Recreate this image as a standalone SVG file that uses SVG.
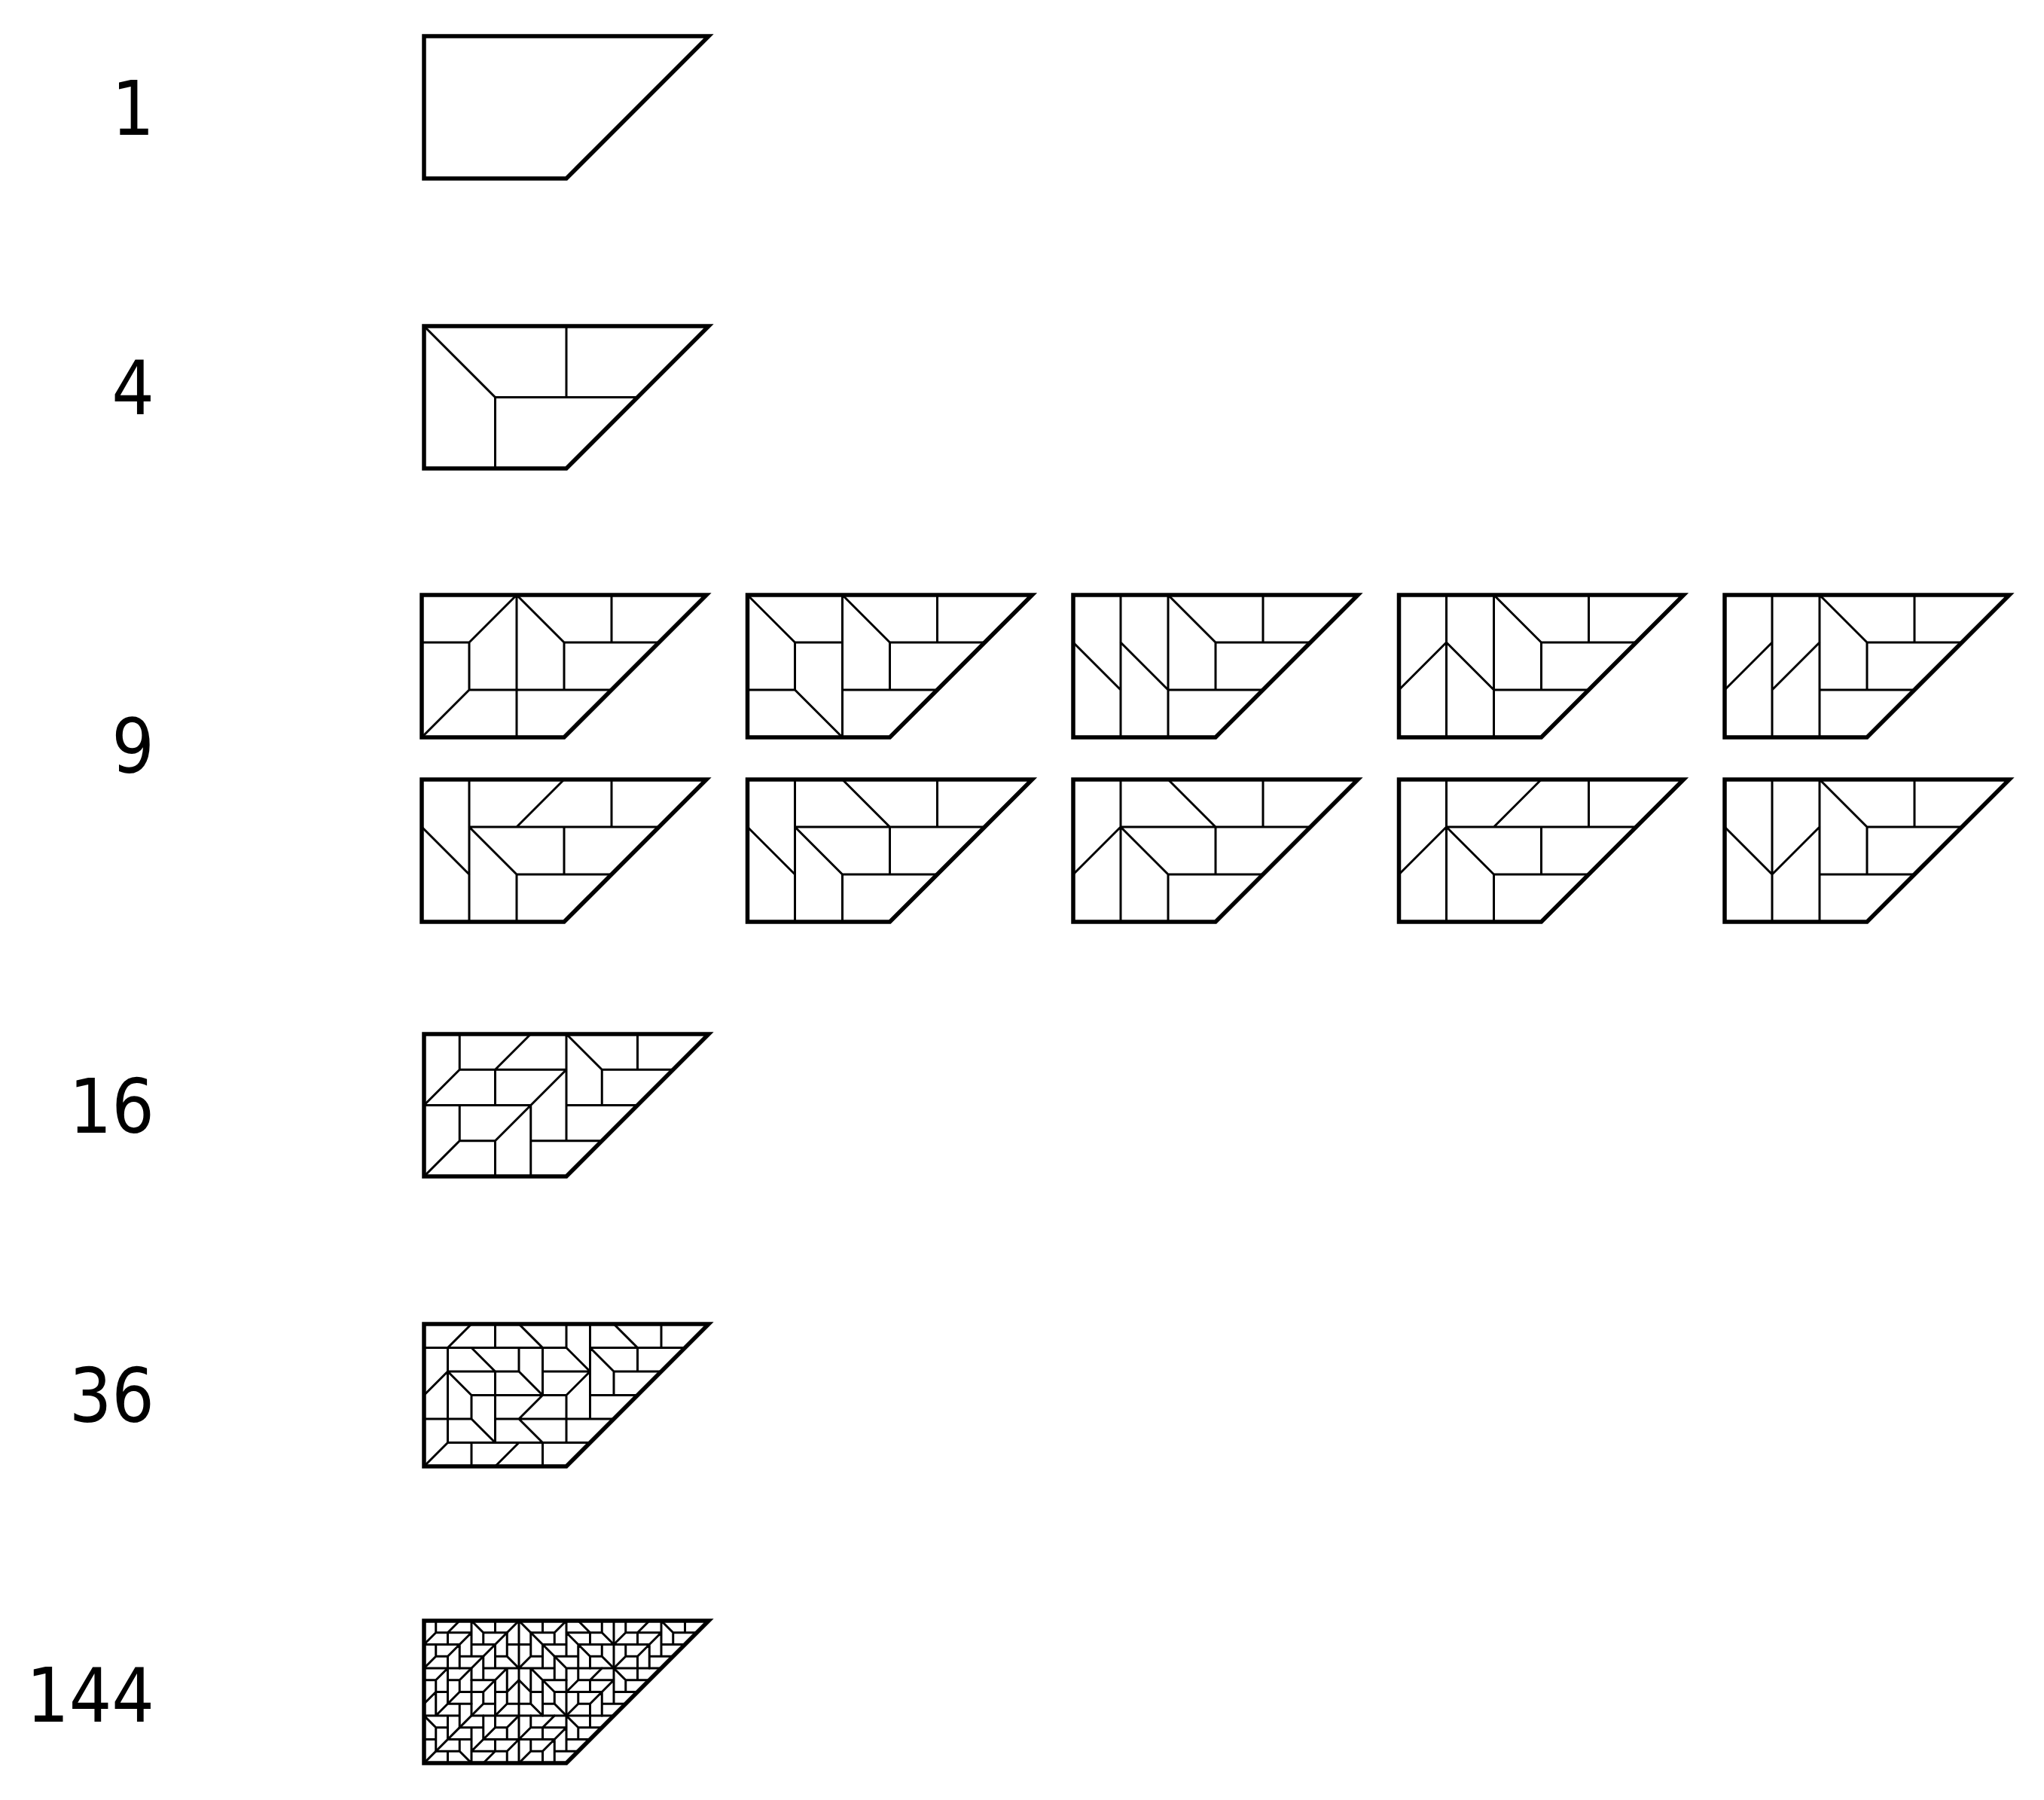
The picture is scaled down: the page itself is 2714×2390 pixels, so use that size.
<svg xmlns="http://www.w3.org/2000/svg" xmlns:xlink="http://www.w3.org/1999/xlink" width="2714" height="2390" viewBox="0 0 2714 2390">
<style>
.o{fill:none;stroke:#000;stroke-width:5.5;stroke-linejoin:miter;stroke-miterlimit:10}
.i{fill:none;stroke:#000;stroke-width:3;vector-effect:non-scaling-stroke;stroke-linecap:round;stroke-linejoin:round}
.lbl{font-family:'DejaVu Sans Condensed','DejaVu Sans',sans-serif;font-stretch:condensed;font-size:99px;fill:#000;text-anchor:end}
</style>
<defs>
<polygon id="out" class="o" points="0,0 378,0 189,189 0,189"/>
<path id="t4" class="i" d="M0 0L1 1V2M1 1H3M2 0V1"/>
<path id="v1" class="i" d="M0 1H1M1 1L2 0M2 0V3M2 0L3 1M3 1H5M4 0V1M1 1V2M3 1V2M1 2H4M0 3L1 2"/>
<path id="v2" class="i" d="M0 0L1 1H2M2 0V3M2 0L3 1M3 1H5M4 0V1M1 1V2M0 2H1L2 3M3 1V2M2 2H4"/>
<path id="v3" class="i" d="M1 0V3M2 0V3M0 1L1 2M1 1L2 2M2 0L3 1M3 1H5M4 0V1M3 1V2M2 2H4"/>
<path id="v4" class="i" d="M1 0V3M2 0V3M0 2L1 1L2 2M2 0L3 1M3 1H5M4 0V1M3 1V2M2 2H4"/>
<path id="v5" class="i" d="M1 0V3M2 0V3M0 2L1 1M1 2L2 1M2 0L3 1M3 1H5M4 0V1M3 1V2M2 2H4"/>
<path id="v6" class="i" d="M1 0V3M0 1L1 2M2 2V3M1 1H5M2 1L3 0M4 0V1M1 1L2 2H4M3 1V2"/>
<path id="v7" class="i" d="M1 0V3M0 1L1 2M1 1H5M2 0L3 1M4 0V1M1 1L2 2V3M2 2H4M3 1V2"/>
<path id="v8" class="i" d="M1 0V3M0 2L1 1M1 1H5M2 0L3 1M4 0V1M1 1L2 2V3M2 2H4M3 1V2"/>
<path id="v9" class="i" d="M1 0V3M0 2L1 1M1 1H5M2 1L3 0M4 0V1M1 1L2 2V3M2 2H4M3 1V2"/>
<path id="v10" class="i" d="M1 0V3M2 0V3M0 1L1 2L2 1M2 0L3 1M3 1H5M4 0V1M3 1V2M2 2H4"/>
<path id="t16" class="i" d="M1 0V1M0 2L1 1H4M2 1L3 0M2 1V2M0 2H3M2 3L4 1M4 0V3M4 0L5 1H7M6 0V1M5 1V2M4 2H6M1 2V3H2M3 3H5M0 4L1 3M3 2V4M2 3V4"/>
<path id="t36" class="i" d="M1 1L2 0M3 0V1M4 0L5 1M6 0V1M7 0V4M8 0L9 1M10 0V1M0 1H6M7 1H11M1 1V5M2 1L3 2M1 2H4M4 1V2M5 1V3M4 2L5 3M6 1L7 2M5 2H7M7 1L8 2M9 1V2M8 2H10M8 2V3M7 3H9M0 3L1 2L2 3H3M2 3V4M0 4H2M2 4L3 5M3 2V5M3 3H6M6 3L7 2M6 3V5M4 4L5 3M4 4L5 5M3 4H8M0 6L1 5H7M2 5V6M3 6L4 5M5 5V6"/>
</defs>
<rect width="2714" height="2390" fill="#fff"/>

<g id="labels">
<text id="lbl1" class="lbl" x="205" y="179">1</text>
<text id="lbl4" class="lbl" x="205" y="550">4</text>
<text id="lbl9" class="lbl" x="205" y="1026">9</text>
<text id="lbl16" class="lbl" x="205" y="1504">16</text>
<text id="lbl36" class="lbl" x="205" y="1888">36</text>
<text id="lbl144" class="lbl" x="205" y="2286">144</text>
</g>

<g id="n1" transform="translate(563,48)"><use href="#out"/></g>

<g id="n4" transform="translate(563,433)">
<g transform="scale(94.5)"><use href="#t4"/></g>
<use href="#out"/>
</g>

<g id="n9a" transform="translate(560,790)"><g transform="scale(63)"><use href="#v1"/></g><use href="#out"/></g>
<g id="n9b" transform="translate(992.5,790)"><g transform="scale(63)"><use href="#v2"/></g><use href="#out"/></g>
<g id="n9c" transform="translate(1425,790)"><g transform="scale(63)"><use href="#v3"/></g><use href="#out"/></g>
<g id="n9d" transform="translate(1857.5,790)"><g transform="scale(63)"><use href="#v4"/></g><use href="#out"/></g>
<g id="n9e" transform="translate(2290,790)"><g transform="scale(63)"><use href="#v5"/></g><use href="#out"/></g>
<g id="n9f" transform="translate(560,1035)"><g transform="scale(63)"><use href="#v6"/></g><use href="#out"/></g>
<g id="n9g" transform="translate(992.5,1035)"><g transform="scale(63)"><use href="#v7"/></g><use href="#out"/></g>
<g id="n9h" transform="translate(1425,1035)"><g transform="scale(63)"><use href="#v8"/></g><use href="#out"/></g>
<g id="n9i" transform="translate(1857.5,1035)"><g transform="scale(63)"><use href="#v9"/></g><use href="#out"/></g>
<g id="n9j" transform="translate(2290,1035)"><g transform="scale(63)"><use href="#v10"/></g><use href="#out"/></g>

<g id="n16" transform="translate(563,1373)">
<g transform="scale(47.25)"><use href="#t16"/></g>
<use href="#out"/>
</g>

<g id="n36" transform="translate(563,1758)">
<g transform="scale(31.5)"><use href="#t36"/></g>
<use href="#out"/>
</g>

<g id="n144" transform="translate(563,2152)">
<g transform="scale(15.75)">
<use href="#v1" transform="scale(4)"/>
<use href="#t16" transform="matrix(1,0,0,1,0,0)"/>
<use href="#t16" transform="matrix(0,-1,-1,0,8,8)"/>
<use href="#t16" transform="matrix(0,-1,1,0,8,8)"/>
<use href="#t16" transform="matrix(-1,0,0,1,16,0)"/>
<use href="#t16" transform="matrix(1,0,0,1,16,0)"/>
<use href="#t16" transform="matrix(1,0,0,1,12,4)"/>
<use href="#t16" transform="matrix(1,0,0,1,8,8)"/>
<use href="#t16" transform="matrix(0,1,1,0,0,4)"/>
<use href="#t16" transform="matrix(-1,0,0,-1,8,12)"/>
</g>
<use href="#out"/>
</g>
</svg>
